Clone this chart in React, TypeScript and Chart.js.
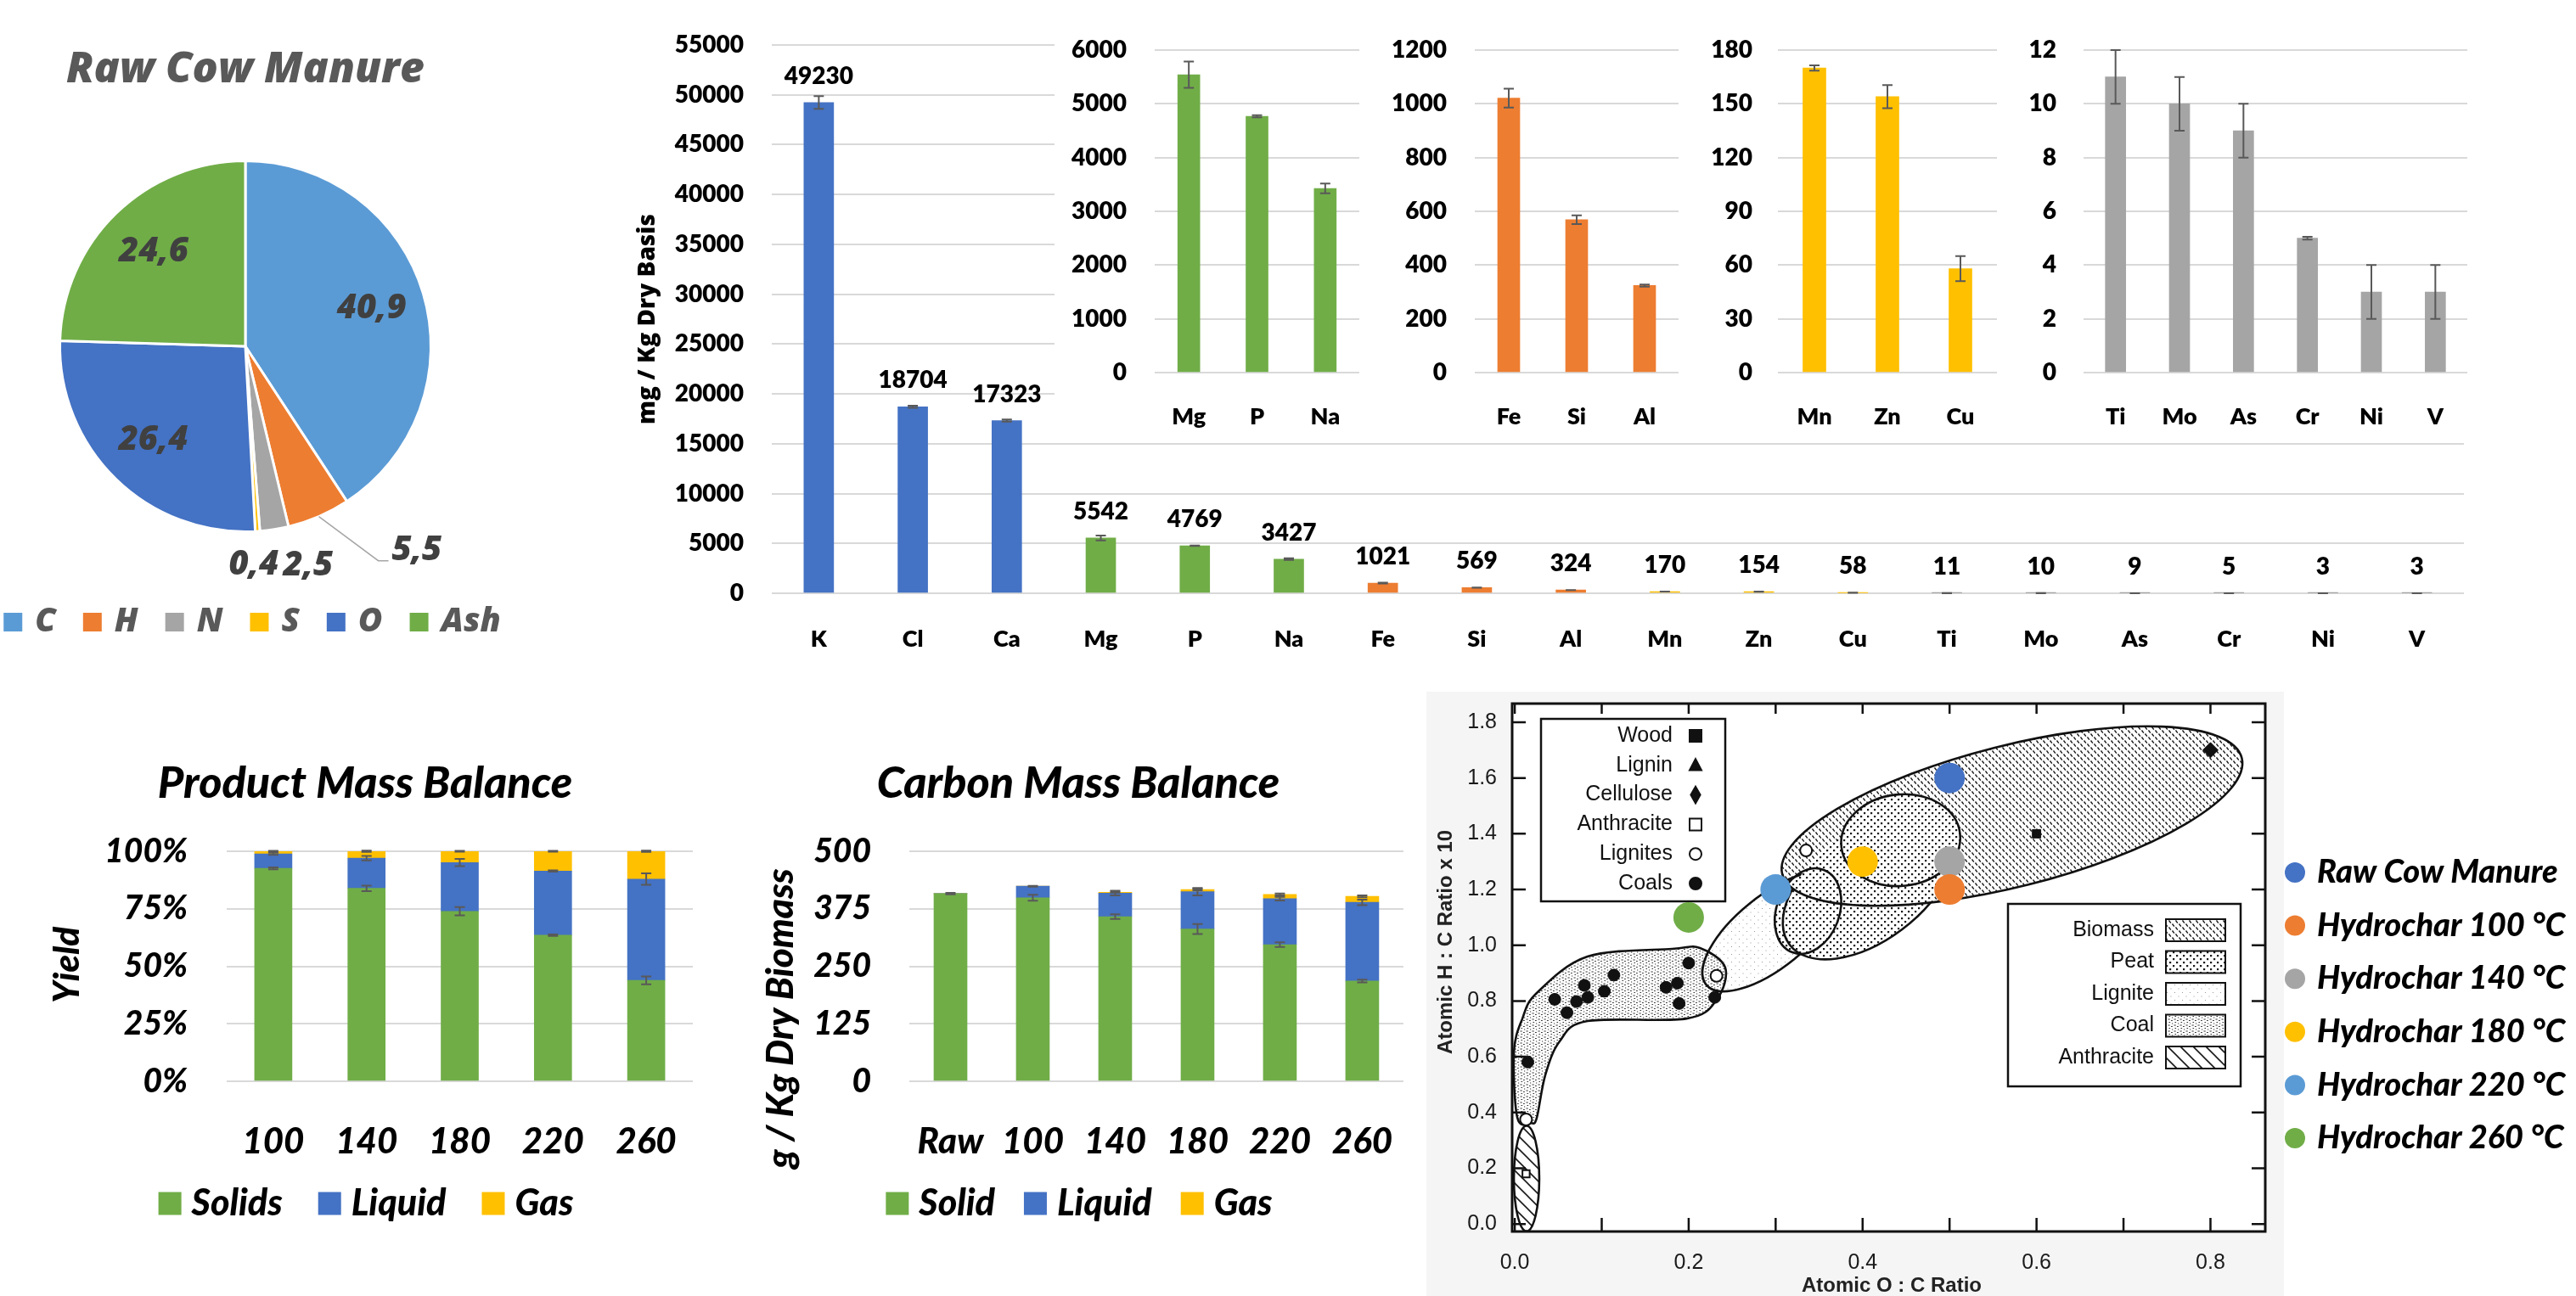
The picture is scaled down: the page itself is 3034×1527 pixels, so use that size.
import React, { useEffect, useRef } from "react";
import { Chart, registerables } from "chart.js";

Chart.register(...registerables);

const LATO = "Lato, 'Open Sans', 'Liberation Sans', sans-serif";
const OPEN = "'Open Sans', 'Noto Sans', 'Liberation Sans', sans-serif";
const HELV = "'Liberation Sans', 'DejaVu Sans', Arial, sans-serif";

Chart.defaults.font.family = LATO;
Chart.defaults.color = "#000";

// ================= DATA =================
// Pie: elemental composition of raw cow manure (wt %)
const pieLabels = ["C", "H", "N", "S", "O", "Ash"];
const pieValues = [40.9, 5.5, 2.5, 0.4, 26.4, 24.6];
const pieColors = ["#5B9BD5", "#ED7D31", "#A5A5A5", "#FFC000", "#4472C4", "#70AD47"];

// Minerals (mg / kg dry basis)
const elementLabels = ["K", "Cl", "Ca", "Mg", "P", "Na", "Fe", "Si", "Al", "Mn", "Zn", "Cu", "Ti", "Mo", "As", "Cr", "Ni", "V"];
const elementValues = [49230, 18704, 17323, 5542, 4769, 3427, 1021, 569, 324, 170, 154, 58, 11, 10, 9, 5, 3, 3];
const elementErrors = [640, 110, 110, 245, 20, 90, 35, 16, 4, 1.5, 6.5, 7, 1, 1, 1, 0.05, 1, 1];
const elementGroup = [0, 0, 0, 1, 1, 1, 2, 2, 2, 3, 3, 3, 4, 4, 4, 4, 4, 4];
const groupColors = ["#4472C4", "#70AD47", "#ED7D31", "#FFC000", "#A5A5A5"];
const mainYMax = 55000;
const mainYStep = 5000;
const insetGroups = [1, 2, 3, 4];
const insetYMax = [6000, 1200, 180, 12];
const insetYStep = [1000, 200, 30, 2];

// Product mass balance (% yield)
const productCategories = ["100", "140", "180", "220", "260"];
const productSolids = [92.6, 83.9, 73.9, 63.5, 43.9];
const productLiquid = [6.3, 13.1, 21.2, 27.9, 44.0];
const productGas = [1.1, 3.0, 4.9, 8.6, 12.1];
const productSolidsErr = [0.4, 1.2, 1.8, 0.3, 1.7];
const productLiquidErr = [0.5, 1.0, 1.6, 0.3, 2.5];
const productGasErr = [0.2, 0.3, 0.2, 0.2, 0.3];
const productYMax = 100;
const productYStep = 25;

// Carbon mass balance (g / kg dry biomass)
const carbonCategories = ["Raw", "100", "140", "180", "220", "260"];
const carbonSolid = [408, 399, 358, 331, 297, 218];
const carbonLiquid = [0, 25, 51, 81, 100, 171];
const carbonGas = [0, 0, 2, 5, 9, 13];
const carbonSolidErr = [1.5, 6.5, 5, 11, 5, 3];
const carbonLiquidErr = [0, 1, 5, 8, 4, 6];
const carbonGasErr = [0, 0, 1, 2, 2, 2];
const carbonYMax = 500;
const carbonYStep = 125;

// Van Krevelen diagram
const vkSampleNames = ["Raw Cow Manure", "Hydrochar 100 °C", "Hydrochar 140 °C", "Hydrochar 180 °C", "Hydrochar 220 °C", "Hydrochar 260 °C"];
const vkSampleOC = [0.5, 0.5, 0.5, 0.4, 0.3, 0.2];
const vkSampleHC = [1.6, 1.2, 1.3, 1.3, 1.2, 1.1];
const vkSampleColors = ["#4472C4", "#ED7D31", "#A5A5A5", "#FFC000", "#5B9BD5", "#70AD47"];
const vkWood = [[0.6, 1.4]];
const vkCellulose = [[0.8, 1.7]];
const vkAnthracite = [[0.013, 0.18]];
const vkLignites = [[0.335, 1.34], [0.232, 0.89], [0.013, 0.375]];
const vkCoals = [[0.046, 0.806], [0.06, 0.758], [0.071, 0.798], [0.08, 0.856], [0.084, 0.813], [0.103, 0.835], [0.114, 0.893], [0.174, 0.849], [0.187, 0.864], [0.189, 0.791], [0.2, 0.936], [0.23, 0.813], [0.015, 0.581]];
const vkXTicks = [0, 0.2, 0.4, 0.6, 0.8];
const vkYTicks = [0, 0.2, 0.4, 0.6, 0.8, 1.0, 1.2, 1.4, 1.6, 1.8];

// Region outlines of the classic diagram (data coordinates)
const vkBiomass = { center: [0.5718, 1.4636], major: [0.836, 1.672], minor: [0.5519, 1.709] };
const vkPeat = { center: [0.407, 1.216], major: [0.498, 1.43], minor: [0.357, 1.34] };
const vkPeatInner = { center: [0.4438, 1.377], major: [0.512, 1.401], minor: [0.4438, 1.541] };
const vkPeatSmall = { center: [0.3372, 1.1225], major: [0.3552, 1.2704], minor: [0.3711, 1.0838] };
const vkLignite = { center: [0.2954, 1.0493], major: [0.3708, 1.2397], minor: [0.2697, 1.149] };
const vkAnthraciteRegion = { center: [0.0136, 0.163], major: [0.0136, 0.352], minor: [0.0282, 0.163] };
const vkCoalOutline = [
  [0.0253, 0.8285], [0.0837, 0.9595], [0.181, 0.987], [0.213, 0.99], [0.242, 0.92], [0.2326, 0.807],
  [0.1976, 0.737], [0.0837, 0.728], [0.0516, 0.655], [0.035, 0.533], [0.0253, 0.381], [0.0185, 0.362],
  [0.003, 0.381], [-0.001, 0.615], [0.0088, 0.737],
];
const vkSymbolLegend = [
  { label: "Wood", style: "rect", fill: true },
  { label: "Lignin", style: "triangle", fill: true },
  { label: "Cellulose", style: "diamond", fill: true },
  { label: "Anthracite", style: "rect", fill: false },
  { label: "Lignites", style: "circle", fill: false },
  { label: "Coals", style: "circle", fill: true },
];
const vkPatternLegend = [
  { label: "Biomass", pattern: "biomass" },
  { label: "Peat", pattern: "peat" },
  { label: "Lignite", pattern: "lignite" },
  { label: "Coal", pattern: "coal" },
  { label: "Anthracite", pattern: "anthracite" },
];

// ================= HELPERS / PLUGINS =================
const range = (max: number, step: number) => {
  const out: number[] = [];
  for (let v = 0; v <= max + 1e-9; v += step) out.push(Math.round(v * 1000) / 1000);
  return out;
};

type TextItem = { text: string; x: number; y: number; font: string; color?: string; align?: CanvasTextAlign; rotate?: number };

let pluginCounter = 0;
const textPlugin = (items: TextItem[]) => ({
  id: "texts" + pluginCounter++,
  afterDraw(chart: any) {
    const ctx = chart.ctx;
    items.forEach((t) => {
      ctx.save();
      ctx.translate(t.x, t.y);
      if (t.rotate) ctx.rotate(t.rotate);
      ctx.font = t.font;
      ctx.fillStyle = t.color || "#000";
      ctx.textAlign = t.align || "center";
      ctx.textBaseline = "middle";
      ctx.fillText(t.text, 0, 0);
      ctx.restore();
    });
  },
});

type LegendSpec = { labels: string[]; colors: string[]; cx: number; cy: number; font: string; color: string; box: number; gapText: number; gapItem: number };
const legendPlugin = (spec: LegendSpec) => ({
  id: "legend" + pluginCounter++,
  afterDraw(chart: any) {
    const ctx = chart.ctx;
    ctx.save();
    ctx.font = spec.font;
    const widths = spec.labels.map((l) => ctx.measureText(l).width);
    const total = widths.reduce((s, w) => s + spec.box + spec.gapText + w, 0) + spec.gapItem * (spec.labels.length - 1);
    let x = spec.cx - total / 2;
    spec.labels.forEach((l, i) => {
      ctx.fillStyle = spec.colors[i];
      ctx.fillRect(x, spec.cy - spec.box / 2, spec.box, spec.box);
      x += spec.box + spec.gapText;
      ctx.fillStyle = spec.color;
      ctx.textAlign = "left";
      ctx.textBaseline = "middle";
      ctx.fillText(l, x, spec.cy);
      x += widths[i] + spec.gapItem;
    });
    ctx.restore();
  },
});

const errorBarPlugin = (cap: number) => ({
  id: "errorBars" + pluginCounter++,
  afterDatasetsDraw(chart: any) {
    const ctx = chart.ctx;
    const ys = chart.scales.y;
    chart.data.datasets.forEach((ds: any, di: number) => {
      const errs = ds.errorBars;
      if (!errs) return;
      const meta = chart.getDatasetMeta(di);
      meta.data.forEach((el: any, i: number) => {
        const e = errs[i];
        if (!e || !ds.data[i]) return;
        const v = ys.getValueForPixel(el.y);
        const y1 = ys.getPixelForValue(v + e);
        const y2 = ys.getPixelForValue(v - e);
        ctx.save();
        ctx.strokeStyle = "#595959";
        ctx.lineWidth = 2;
        ctx.beginPath();
        ctx.moveTo(el.x, y1);
        ctx.lineTo(el.x, y2);
        ctx.moveTo(el.x - cap, y1);
        ctx.lineTo(el.x + cap, y1);
        ctx.moveTo(el.x - cap, y2);
        ctx.lineTo(el.x + cap, y2);
        ctx.stroke();
        ctx.restore();
      });
    });
  },
});

const valueLabelPlugin = {
  id: "valueLabels",
  afterDatasetsDraw(chart: any) {
    const ctx = chart.ctx;
    const meta = chart.getDatasetMeta(0);
    const vals = chart.data.datasets[0].data;
    ctx.save();
    ctx.font = `800 28px ${LATO}`;
    ctx.fillStyle = "#000";
    ctx.textAlign = "center";
    ctx.textBaseline = "middle";
    meta.data.forEach((el: any, i: number) => {
      ctx.fillText(String(vals[i]), el.x, el.y - 31);
    });
    ctx.restore();
  },
};

// outside-label placement for the thin pie slices
const pieOutside: Record<number, any> = { 1: { leader: [70, 52] }, 2: { dx: 34, dy: 6 }, 3: { dx: -7, dy: 3 } };
const pieLabelPlugin = {
  id: "pieLabels",
  afterDatasetsDraw(chart: any) {
    const ctx = chart.ctx;
    const meta = chart.getDatasetMeta(0);
    const vals = chart.data.datasets[0].data;
    ctx.save();
    ctx.font = `italic 800 40px ${OPEN}`;
    ctx.fillStyle = "#404040";
    ctx.textBaseline = "middle";
    meta.data.forEach((arc: any, i: number) => {
      const p = arc.getProps(["x", "y", "startAngle", "endAngle", "outerRadius"], true);
      const mid = (p.startAngle + p.endAngle) / 2;
      const dx = Math.cos(mid);
      const dy = Math.sin(mid);
      const txt = String(vals[i]).replace(".", ",");
      const place = pieOutside[i];
      if (!place) {
        ctx.textAlign = "center";
        ctx.fillText(txt, p.x + dx * p.outerRadius * 0.71, p.y + dy * p.outerRadius * 0.71);
        return;
      }
      const ex = p.x + dx * p.outerRadius;
      const ey = p.y + dy * p.outerRadius;
      if (place.leader) {
        const bx = ex + place.leader[0];
        const by = ey + place.leader[1];
        ctx.strokeStyle = "#A6A6A6";
        ctx.lineWidth = 1.5;
        ctx.beginPath();
        ctx.moveTo(ex, ey);
        ctx.lineTo(bx, by);
        ctx.lineTo(bx + 12, by);
        ctx.stroke();
        ctx.textAlign = "left";
        ctx.fillText(txt, bx + 16, by - 12);
      } else {
        ctx.textAlign = "center";
        ctx.fillText(txt, p.x + dx * p.outerRadius * 1.17 + place.dx, p.y + dy * p.outerRadius * 1.17 + place.dy);
      }
    });
    ctx.restore();
  },
};

// ================= CHART CONFIGS =================
function makePie() {
  return {
    type: "pie",
    data: {
      labels: pieLabels,
      datasets: [{ data: pieValues, backgroundColor: pieColors, borderColor: "#fff", borderWidth: 3 }],
    },
    options: {
      responsive: false,
      animation: false,
      layout: { padding: { top: 188, bottom: 162, left: 0, right: 0 } },
      plugins: { legend: { display: false }, tooltip: { enabled: false } },
    },
    plugins: [
      pieLabelPlugin,
      textPlugin([{ text: "Raw Cow Manure", x: 310, y: 83, font: `italic 800 50px ${OPEN}`, color: "#595959" }]),
      legendPlugin({ labels: pieLabels, colors: pieColors, cx: 318, cy: 733, font: `italic 800 39px ${OPEN}`, color: "#595959", box: 22, gapText: 15, gapItem: 32 }),
    ],
  };
}

const gridStyle = { color: "#D9D9D9", lineWidth: 2, drawTicks: false };

function valueAxis(max: number, step: number, width: number, pad: number, font: any, cb?: (v: any) => string) {
  return {
    min: 0,
    max,
    afterFit: (s: any) => { s.width = width; },
    afterBuildTicks: (s: any) => { s.ticks = range(max, step).map((v) => ({ value: v })); },
    grid: gridStyle,
    border: { display: false },
    ticks: { padding: pad, font, color: "#000", callback: cb || ((v: any) => String(v)) },
  };
}

function catAxis(height: number, pad: number, font: any, stacked = false) {
  return {
    stacked,
    afterFit: (s: any) => { s.height = height; },
    grid: { display: false },
    border: { display: false },
    ticks: { padding: pad, font, color: "#000", autoSkip: false, maxRotation: 0 },
  };
}

function makeMain() {
  return {
    type: "bar",
    data: {
      labels: elementLabels,
      datasets: [{ data: elementValues, errorBars: elementErrors, backgroundColor: elementGroup.map((g) => groupColors[g]), barThickness: 35 }],
    },
    options: {
      responsive: false,
      animation: false,
      layout: { padding: { left: 0, right: 38, top: 53, bottom: 0 } },
      plugins: { legend: { display: false }, tooltip: { enabled: false } },
      scales: {
        x: catAxis(91, 30, { size: 27, weight: "800" }),
        y: valueAxis(mainYMax, mainYStep, 209, 33, { size: 28, weight: "800" }),
      },
    },
    plugins: [
      errorBarPlugin(6),
      valueLabelPlugin,
      textPlugin([{ text: "mg / Kg Dry Basis", x: 63, y: 376, rotate: -Math.PI / 2, font: `800 28px ${OPEN}` }]),
    ],
  };
}

const insetLayout = [
  { left: 1242, width: 398, yw: 118, pr: 39, tickPad: 33, bar: 26 },
  { left: 1640, width: 370, yw: 97, pr: 33, tickPad: 33, bar: 26 },
  { left: 2010, width: 380, yw: 84, pr: 38, tickPad: 30, bar: 27 },
  { left: 2390, width: 530, yw: 64, pr: 14, tickPad: 32, bar: 24 },
];

function makeInset(k: number) {
  const g = insetGroups[k];
  const idx = elementGroup.map((gg, i) => (gg === g ? i : -1)).filter((i) => i >= 0);
  const L = insetLayout[k];
  return {
    type: "bar",
    data: {
      labels: idx.map((i) => elementLabels[i]),
      datasets: [{ data: idx.map((i) => elementValues[i]), errorBars: idx.map((i) => elementErrors[i]), backgroundColor: groupColors[g], barThickness: L.bar }],
    },
    options: {
      responsive: false,
      animation: false,
      layout: { padding: { left: 0, right: L.pr, top: 59, bottom: 0 } },
      plugins: { legend: { display: false }, tooltip: { enabled: false } },
      scales: {
        x: catAxis(66, 28, { size: 27, weight: "800" }),
        y: valueAxis(insetYMax[k], insetYStep[k], L.yw, L.tickPad, { size: 28, weight: "800" }),
      },
    },
    plugins: [errorBarPlugin(6)],
  };
}

const stackColors = ["#70AD47", "#4472C4", "#FFC000"];

function makeProduct() {
  return {
    type: "bar",
    data: {
      labels: productCategories,
      datasets: [
        { label: "Solids", data: productSolids, errorBars: productSolidsErr, backgroundColor: stackColors[0], barThickness: 44 },
        { label: "Liquid", data: productLiquid, errorBars: productLiquidErr, backgroundColor: stackColors[1], barThickness: 44 },
        { label: "Gas", data: productGas, errorBars: productGasErr, backgroundColor: stackColors[2], barThickness: 44 },
      ],
    },
    options: {
      responsive: false,
      animation: false,
      layout: { padding: { left: 0, right: 44, top: 153, bottom: 0 } },
      plugins: { legend: { display: false }, tooltip: { enabled: false } },
      scales: {
        x: catAxis(253, 38, { size: 42, weight: "900", style: "italic" }, true),
        y: { ...valueAxis(productYMax, productYStep, 267, 46, { size: 39, weight: "900", style: "italic" }, (v: any) => v + "%"), stacked: true },
      },
    },
    plugins: [
      errorBarPlugin(6),
      textPlugin([
        { text: "Product Mass Balance", x: 430, y: 73, font: `italic 900 52px ${LATO}` },
        { text: "Yield", x: 79, y: 287, rotate: -Math.PI / 2, font: `italic 900 42px ${LATO}` },
      ]),
      legendPlugin({ labels: ["Solids", "Liquid", "Gas"], colors: stackColors, cx: 431, cy: 568, font: `italic 900 43px ${LATO}`, color: "#000", box: 27, gapText: 12, gapItem: 42 }),
    ],
  };
}

function makeCarbon() {
  return {
    type: "bar",
    data: {
      labels: carbonCategories,
      datasets: [
        { label: "Solid", data: carbonSolid, errorBars: carbonSolidErr, backgroundColor: stackColors[0], barThickness: 39 },
        { label: "Liquid", data: carbonLiquid, errorBars: carbonLiquidErr, backgroundColor: stackColors[1], barThickness: 39 },
        { label: "Gas", data: carbonGas, errorBars: carbonGasErr, backgroundColor: stackColors[2], barThickness: 39 },
      ],
    },
    options: {
      responsive: false,
      animation: false,
      layout: { padding: { left: 0, right: 24, top: 153, bottom: 0 } },
      plugins: { legend: { display: false }, tooltip: { enabled: false } },
      scales: {
        x: catAxis(253, 38, { size: 42, weight: "900", style: "italic" }, true),
        y: { ...valueAxis(carbonYMax, carbonYStep, 221, 45, { size: 39, weight: "900", style: "italic" }), stacked: true },
      },
    },
    plugins: [
      errorBarPlugin(6),
      textPlugin([
        { text: "Carbon Mass Balance", x: 420, y: 73, font: `italic 900 52px ${LATO}` },
        { text: "g / Kg Dry Biomass", x: 70, y: 350, rotate: -Math.PI / 2, font: `italic 900 44px ${LATO}` },
      ]),
      legendPlugin({ labels: ["Solid", "Liquid", "Gas"], colors: stackColors, cx: 421, cy: 568, font: `italic 900 43px ${LATO}`, color: "#000", box: 27, gapText: 12, gapItem: 34 }),
    ],
  };
}

// ---- Van Krevelen decorations ----
function makePattern(ctx: CanvasRenderingContext2D, kind: string) {
  const c = document.createElement("canvas");
  const g = c.getContext("2d") as CanvasRenderingContext2D;
  const s = kind === "anthracite" ? 15 : kind === "lignite" ? 9 : kind === "peat" ? 8 : kind === "coal" ? 7 : 8;
  c.width = s;
  c.height = s;
  g.fillStyle = "#fff";
  g.fillRect(0, 0, s, s);
  g.fillStyle = "#1a1a1a";
  g.strokeStyle = "#1a1a1a";
  if (kind === "biomass") {
    g.lineWidth = 1.4;
    g.beginPath();
    g.moveTo(0.5, 0.5); g.lineTo(2.8, 3.6);
    g.moveTo(4.5, 4.5); g.lineTo(6.8, 7.6);
    g.stroke();
  } else if (kind === "peat") {
    g.fillRect(1, 1, 2.2, 2.2);
    g.fillRect(5, 5, 2.2, 2.2);
  } else if (kind === "lignite") {
    g.fillStyle = "#999";
    g.fillRect(2, 2, 1, 1);
    g.fillRect(6.5, 6.5, 1, 1);
  } else if (kind === "coal") {
    g.fillStyle = "#333";
    g.fillRect(0.5, 0.5, 2.2, 1);
    g.fillRect(4, 2, 1.8, 1);
    g.fillRect(1.5, 4, 1.6, 1);
    g.fillRect(5, 5.5, 1.2, 1);
  } else if (kind === "anthracite") {
    g.lineWidth = 1.6;
    g.beginPath();
    g.moveTo(0, 0); g.lineTo(s, s);
    g.moveTo(-2, s - 2); g.lineTo(2, s + 2);
    g.moveTo(s - 2, -2); g.lineTo(s + 2, 2);
    g.stroke();
  }
  return ctx.createPattern(c, "repeat");
}

function smoothClosed(ctx: CanvasRenderingContext2D, pts: number[][]) {
  const n = pts.length;
  ctx.moveTo(pts[0][0], pts[0][1]);
  for (let i = 0; i < n; i++) {
    const p0 = pts[(i - 1 + n) % n];
    const p1 = pts[i];
    const p2 = pts[(i + 1) % n];
    const p3 = pts[(i + 2) % n];
    ctx.bezierCurveTo(
      p1[0] + (p2[0] - p0[0]) / 6, p1[1] + (p2[1] - p0[1]) / 6,
      p2[0] - (p3[0] - p1[0]) / 6, p2[1] - (p3[1] - p1[1]) / 6,
      p2[0], p2[1]
    );
  }
  ctx.closePath();
}

function drawSymbol(ctx: CanvasRenderingContext2D, style: string, fill: boolean, x: number, y: number, r: number) {
  ctx.beginPath();
  if (style === "rect") ctx.rect(x - r, y - r, 2 * r, 2 * r);
  else if (style === "triangle") { ctx.moveTo(x, y - r * 1.1); ctx.lineTo(x + r, y + r * 0.8); ctx.lineTo(x - r, y + r * 0.8); ctx.closePath(); }
  else if (style === "diamond") { ctx.moveTo(x, y - r * 1.4); ctx.lineTo(x + r * 0.8, y); ctx.lineTo(x, y + r * 1.4); ctx.lineTo(x - r * 0.8, y); ctx.closePath(); }
  else ctx.arc(x, y, r, 0, Math.PI * 2);
  ctx.lineWidth = 2;
  ctx.strokeStyle = "#111";
  ctx.fillStyle = fill ? "#111" : "#fff";
  ctx.fill();
  ctx.stroke();
}

const vkDecorPlugin = {
  id: "vkDecor",
  beforeDraw(chart: any) {
    const { ctx, chartArea: a } = chart;
    ctx.save();
    ctx.fillStyle = "#F5F5F5";
    ctx.fillRect(30, 35, 1010, chart.height - 35);
    ctx.fillStyle = "#FFFFFF";
    ctx.fillRect(a.left, a.top, a.right - a.left, a.bottom - a.top);
    ctx.restore();
  },
  beforeDatasetsDraw(chart: any) {
    const { ctx, chartArea: a } = chart;
    const xs = chart.scales.x;
    const ys = chart.scales.y;
    const P = (p: number[]) => [xs.getPixelForValue(p[0]), ys.getPixelForValue(p[1])];
    if (!chart.$vkPatterns) {
      chart.$vkPatterns = {};
      ["biomass", "peat", "lignite", "coal", "anthracite"].forEach((k) => (chart.$vkPatterns[k] = makePattern(ctx, k)));
    }
    const pats = chart.$vkPatterns;
    const ellipse = (e: any) => () => {
      const c = P(e.center);
      const m = P(e.major);
      const n = P(e.minor);
      const rx = Math.hypot(m[0] - c[0], m[1] - c[1]);
      const ry = Math.hypot(n[0] - c[0], n[1] - c[1]);
      const rot = Math.atan2(m[1] - c[1], m[0] - c[0]);
      ctx.ellipse(c[0], c[1], rx, ry, rot, 0, Math.PI * 2);
    };
    const biomassPath = ellipse(vkBiomass);
    const peatPath = ellipse(vkPeat);
    const shapes: { pattern: string; path: () => void; hideIn?: (() => void)[] }[] = [
      { pattern: "lignite", path: ellipse(vkLignite), hideIn: [peatPath] },
      { pattern: "biomass", path: biomassPath },
      { pattern: "peat", path: peatPath, hideIn: [biomassPath] },
      { pattern: "peat", path: ellipse(vkPeatInner) },
      { pattern: "peat", path: ellipse(vkPeatSmall) },
      { pattern: "coal", path: () => smoothClosed(ctx, vkCoalOutline.map(P)) },
      { pattern: "anthracite", path: ellipse(vkAnthraciteRegion) },
    ];

    ctx.save();
    ctx.beginPath();
    ctx.rect(a.left, a.top, a.right - a.left, a.bottom - a.top);
    ctx.clip();
    shapes.forEach((s) => {
      ctx.beginPath();
      s.path();
      ctx.fillStyle = pats[s.pattern];
      ctx.fill();
    });
    ctx.lineWidth = 2.6;
    ctx.strokeStyle = "#111";
    shapes.forEach((s) => {
      ctx.save();
      if (s.hideIn) {
        s.hideIn.forEach((h) => {
          ctx.beginPath();
          ctx.rect(0, 0, chart.width, chart.height);
          h();
          ctx.clip("evenodd");
        });
      }
      ctx.beginPath();
      s.path();
      ctx.stroke();
      ctx.restore();
    });
    ctx.restore();

    // frame + inward ticks
    ctx.save();
    ctx.strokeStyle = "#111";
    ctx.lineWidth = 3;
    ctx.strokeRect(a.left, a.top, a.right - a.left, a.bottom - a.top);
    ctx.lineWidth = 2.5;
    ctx.beginPath();
    for (let v = 0; v <= 0.8001; v += 0.1) {
      const x = xs.getPixelForValue(v);
      ctx.moveTo(x, a.bottom); ctx.lineTo(x, a.bottom - 16);
      ctx.moveTo(x, a.top); ctx.lineTo(x, a.top + 12);
    }
    vkYTicks.forEach((v) => {
      const y = ys.getPixelForValue(v);
      ctx.moveTo(a.left, y); ctx.lineTo(a.left + 16, y);
      ctx.moveTo(a.right, y); ctx.lineTo(a.right - 16, y);
    });
    ctx.stroke();

    // symbol legend box
    const b1 = { x: a.left + 34, y: a.top + 18, w: 217, h: 215 };
    ctx.fillStyle = "#fff";
    ctx.fillRect(b1.x, b1.y, b1.w, b1.h);
    ctx.lineWidth = 2.5;
    ctx.strokeRect(b1.x, b1.y, b1.w, b1.h);
    ctx.font = `25px ${HELV}`;
    ctx.textAlign = "right";
    ctx.textBaseline = "middle";
    vkSymbolLegend.forEach((it, i) => {
      const y = b1.y + 20 + i * 34.8;
      ctx.fillStyle = "#111";
      ctx.fillText(it.label, b1.x + 155, y);
      drawSymbol(ctx, it.style, it.fill, b1.x + 182, y, 7);
    });

    // pattern legend box
    const b2 = { x: a.left + 584, y: a.top + 236, w: 274, h: 215 };
    ctx.fillStyle = "#fff";
    ctx.fillRect(b2.x, b2.y, b2.w, b2.h);
    ctx.lineWidth = 2.5;
    ctx.strokeStyle = "#111";
    ctx.strokeRect(b2.x, b2.y, b2.w, b2.h);
    vkPatternLegend.forEach((it, i) => {
      const y = b2.y + 31 + i * 37.5;
      ctx.fillStyle = "#111";
      ctx.font = `25px ${HELV}`;
      ctx.textAlign = "right";
      ctx.fillText(it.label, b2.x + 172, y);
      ctx.fillStyle = pats[it.pattern];
      ctx.fillRect(b2.x + 186, y - 13, 70, 26);
      ctx.lineWidth = 2;
      ctx.strokeRect(b2.x + 186, y - 13, 70, 26);
    });
    ctx.restore();
  },
  afterDraw(chart: any) {
    const ctx = chart.ctx;
    ctx.save();
    ctx.textBaseline = "middle";
    vkSampleNames.forEach((name, i) => {
      const y = 248 + i * 62.6;
      ctx.fillStyle = vkSampleColors[i];
      ctx.beginPath();
      ctx.arc(1053, y, 12, 0, Math.PI * 2);
      ctx.fill();
      ctx.fillStyle = "#000";
      ctx.font = `italic 900 38px ${LATO}`;
      ctx.textAlign = "left";
      ctx.fillText(name, 1079, y);
    });
    ctx.fillStyle = "#222";
    ctx.font = `bold 24px ${HELV}`;
    ctx.textAlign = "center";
    ctx.fillText("Atomic O : C Ratio", 578, 735);
    ctx.translate(53, 330);
    ctx.rotate(-Math.PI / 2);
    ctx.fillText("Atomic H : C Ratio x 10", 0, 0);
    ctx.restore();
  },
};

function makeVK() {
  const pts = (arr: number[][]) => arr.map(([x, y]) => ({ x, y }));
  const samples = vkSampleNames.map((name, i) => ({
    label: name,
    data: [{ x: vkSampleOC[i], y: vkSampleHC[i] }],
    pointRadius: 18,
    pointBorderWidth: 0,
    backgroundColor: vkSampleColors[i],
    borderColor: vkSampleColors[i],
  }));
  return {
    type: "scatter",
    data: {
      datasets: [
        { label: "Wood", data: pts(vkWood), pointStyle: "rect", pointRadius: 7, backgroundColor: "#111", borderColor: "#111" },
        { label: "Cellulose", data: pts(vkCellulose), pointStyle: "rectRot", pointRadius: 9, backgroundColor: "#111", borderColor: "#111" },
        { label: "Anthracite", data: pts(vkAnthracite), pointStyle: "rect", pointRadius: 6, backgroundColor: "#fff", borderColor: "#111", pointBorderWidth: 2 },
        { label: "Lignites", data: pts(vkLignites), pointStyle: "circle", pointRadius: 7, backgroundColor: "#fff", borderColor: "#111", pointBorderWidth: 2 },
        { label: "Coals", data: pts(vkCoals), pointStyle: "circle", pointRadius: 7, backgroundColor: "#111", borderColor: "#111" },
        ...samples,
      ],
    },
    options: {
      responsive: false,
      animation: false,
      layout: { padding: { left: 0, right: 366, top: 49, bottom: 0 } },
      plugins: { legend: { display: false }, tooltip: { enabled: false } },
      scales: {
        x: {
          type: "linear",
          min: -0.003,
          max: 0.863,
          afterFit: (s: any) => { s.height = 76; },
          afterBuildTicks: (s: any) => { s.ticks = vkXTicks.map((v) => ({ value: v })); },
          grid: { display: false },
          border: { display: false },
          ticks: { padding: 14, font: { family: HELV, size: 25 }, color: "#1a1a1a", callback: (v: any) => Number(v).toFixed(1) },
        },
        y: {
          type: "linear",
          min: -0.027,
          max: 1.867,
          afterFit: (s: any) => { s.width = 131; },
          afterBuildTicks: (s: any) => { s.ticks = vkYTicks.map((v) => ({ value: v })); },
          grid: { display: false },
          border: { display: false },
          ticks: { padding: 10, font: { family: HELV, size: 25 }, color: "#1a1a1a", callback: (v: any) => Number(v).toFixed(1) },
        },
      },
    },
    plugins: [vkDecorPlugin],
  };
}

// ================= COMPONENTS =================
function ChartCanvas({ left, top, width, height, make, bg }: { left: number; top: number; width: number; height: number; make: () => any; bg?: string }) {
  const ref = useRef<HTMLCanvasElement | null>(null);
  useEffect(() => {
    if (!ref.current) return;
    const chart = new Chart(ref.current, make());
    return () => chart.destroy();
  }, []);
  return (
    <canvas
      ref={ref}
      width={width}
      height={height}
      style={{ position: "absolute", left, top, width, height, display: "block", background: bg || "transparent" }}
    />
  );
}

export default function App() {
  return (
    <div style={{ position: "absolute", left: 0, top: 0, width: 3034, height: 1527, overflow: "hidden", background: "#fff" }}>
      <ChartCanvas left={-21} top={0} width={620} height={790} make={makePie} />
      <ChartCanvas left={700} top={0} width={2240} height={790} make={makeMain} />
      {insetLayout.map((L, k) => (
        <ChartCanvas key={k} left={L.left} top={0} width={L.width} height={505} bg="#fff" make={() => makeInset(k)} />
      ))}
      <ChartCanvas left={0} top={850} width={860} height={677} make={makeProduct} />
      <ChartCanvas left={850} top={850} width={830} height={677} make={makeCarbon} />
      <ChartCanvas left={1650} top={780} width={1384} height={747} make={makeVK} />
    </div>
  );
}
